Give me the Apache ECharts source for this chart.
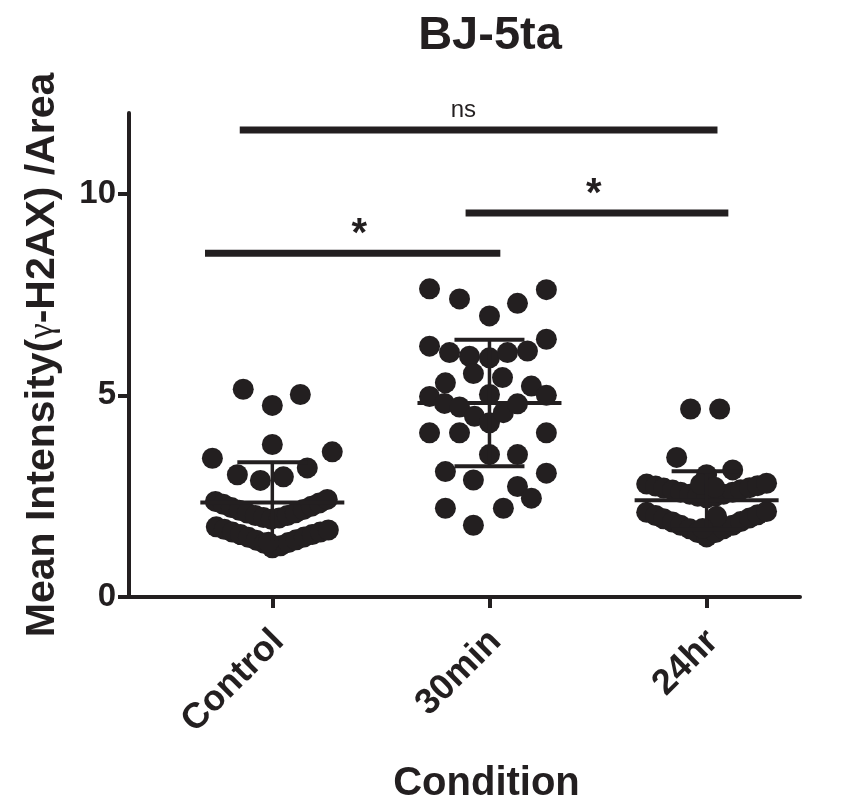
<!DOCTYPE html>
<html>
<head>
<meta charset="utf-8">
<title>BJ-5ta</title>
<script src="https://cdn.jsdelivr.net/npm/echarts@6/dist/echarts.min.js"></script>
<style>
html, body { margin: 0; padding: 0; background: #fff; }
#chart { width: 843px; height: 804px; }
</style>
</head>
<body>
<div id="chart"></div>
<script>
var conditions = ['Control', '30min', '24hr'];
var yTicks = [0, 5, 10];

// each point: [spread inside the column, value]
var controlPts = [
    [-0.134, 5.15], [0, 4.75], [0.129, 5.02], [0, 3.78], [-0.276, 3.44], [0.276, 3.60],
    [-0.161, 3.03], [-0.055, 2.89], [0.051, 2.98], [0.161, 3.20],
    [-0.262, 2.37], [-0.226, 2.30], [-0.189, 2.22], [-0.152, 2.15], [-0.115, 2.08],
    [-0.078, 2.02], [-0.041, 1.97], [-0.005, 1.93], [0.032, 1.96], [0.069, 2.02],
    [0.106, 2.09], [0.143, 2.17], [0.180, 2.25], [0.216, 2.33], [0.253, 2.42],
    [-0.258, 1.74], [-0.221, 1.68], [-0.184, 1.61], [-0.147, 1.55], [-0.110, 1.48],
    [-0.074, 1.41], [-0.037, 1.33], [0, 1.22], [0.037, 1.27], [0.074, 1.35],
    [0.110, 1.42], [0.147, 1.49], [0.184, 1.55], [0.221, 1.61], [0.258, 1.66],
    [-0.018, 1.36]
];
var min30Pts = [
    [-0.276, 7.64], [-0.138, 7.39], [0, 6.97], [0.129, 7.28], [0.262, 7.62],
    [-0.276, 6.22], [-0.184, 6.06], [-0.092, 5.97], [0, 5.93], [0.083, 6.06], [0.175, 6.10], [0.262, 6.39],
    [-0.074, 5.54], [0.060, 5.44], [-0.203, 5.31], [0.193, 5.23], [0, 5.02], [-0.276, 4.97], [0.262, 5.00],
    [-0.207, 4.80], [-0.138, 4.71], [-0.069, 4.48], [0, 4.32], [0.064, 4.57], [0.129, 4.79],
    [-0.276, 4.07], [-0.138, 4.07], [0.262, 4.07],
    [0, 3.53], [0.129, 3.53],
    [-0.203, 3.11], [-0.074, 2.90], [0.262, 3.07], [0.129, 2.74], [0.193, 2.45],
    [-0.203, 2.20], [0.064, 2.20], [-0.074, 1.78]
];
var hr24Pts = [
    [-0.074, 4.66], [0.060, 4.66], [-0.138, 3.46], [0.120, 3.15], [0, 3.03],
    [-0.276, 2.80], [-0.235, 2.75], [-0.198, 2.70], [-0.157, 2.65], [-0.120, 2.60],
    [-0.078, 2.55], [-0.041, 2.50], [0, 2.46], [0.041, 2.50], [0.078, 2.55],
    [0.120, 2.60], [0.157, 2.66], [0.198, 2.71], [0.235, 2.76], [0.276, 2.82],
    [-0.276, 2.10], [-0.235, 2.02], [-0.198, 1.94], [-0.157, 1.86], [-0.120, 1.78],
    [-0.078, 1.69], [-0.041, 1.60], [0, 1.49], [0.041, 1.60], [0.078, 1.69],
    [0.120, 1.78], [0.157, 1.87], [0.198, 1.96], [0.235, 2.04], [0.276, 2.12],
    [-0.028, 2.80], [0.037, 2.72], [0.046, 2.00], [-0.018, 1.70]
];

var means = [2.34, 4.81, 2.40];
var sds = [1.00, 1.57, 0.72];

// significance bars
var sigFrom = [0.69, 1.89, 0.85];
var sigTo = [2.05, 3.10, 3.05];
var sigY = [8.52, 9.52, 11.58];
var sigText = ['*', '*', 'ns'];
var sigTextX = [1.40, 2.48, 1.88];

var INK = '#231f20';
var FONT = '"Liberation Sans", Arial, sans-serif';

var groups = [controlPts, min30Pts, hr24Pts];
var dots = [];
groups.forEach(function (pts, i) {
    pts.forEach(function (p) {
        dots.push([i + 1 + p[0], p[1]]);
    });
});

var errData = means.map(function (m, i) { return [i + 1, m, sds[i]]; });
var sigData = sigY.map(function (y, i) { return [sigFrom[i], sigTo[i], y, sigTextX[i]]; });

var chart = echarts.init(document.getElementById('chart'));
var option = {
    animation: false,
    backgroundColor: '#fff',
    title: {
        text: 'BJ-5ta',
        left: 485,
        top: 8,
        textAlign: 'center',
        textStyle: { color: INK, fontFamily: FONT, fontWeight: 'bold', fontSize: 47 }
    },
    grid: { left: 129, right: 43, top: 113, bottom: 207, outerBoundsMode: 'none' },
    xAxis: {
        type: 'value',
        min: 0.34,
        max: 3.43,
        name: 'Condition',
        nameLocation: 'middle',
        nameGap: 167,
        nameTextStyle: { color: INK, fontFamily: FONT, fontWeight: 'bold', fontSize: 40, padding: [0, 0, 0, 44] },
        splitLine: { show: false },
        axisLine: { lineStyle: { color: INK, width: 4 } },
        axisTick: { customValues: [1, 2, 3], length: 11, lineStyle: { color: INK, width: 4 } },
        axisLabel: {
            // rotated labels sit a little right of their ticks
            customValues: [1.028, 2.028, 3.028],
            rotate: 45,
            margin: 39,
            color: INK, fontFamily: FONT, fontWeight: 'bold', fontSize: 36,
            formatter: function (v) { return conditions[Math.round(v) - 1]; }
        }
    },
    yAxis: {
        type: 'value',
        min: 0,
        max: 12,
        name: 'Mean Intensity({g|γ}-H2AX) /Area',
        nameLocation: 'middle',
        nameGap: 66,
        nameTextStyle: {
            color: INK, fontFamily: FONT, fontWeight: 'bold', fontSize: 41,
            rich: { g: { color: INK, fontFamily: '"Liberation Serif", serif', fontWeight: 'normal', fontSize: 35 } }
        },
        splitLine: { show: false },
        axisLine: { lineStyle: { color: INK, width: 4 } },
        axisTick: { customValues: yTicks, length: 11, lineStyle: { color: INK, width: 4 } },
        axisLabel: { customValues: yTicks, margin: 13, color: INK, fontFamily: FONT, fontWeight: 'bold', fontSize: 33 }
    },
    series: [
        {
            type: 'scatter',
            data: dots,
            symbol: 'circle',
            symbolSize: 21,
            itemStyle: { color: INK, opacity: 1 },
            z: 2
        },
        {
            type: 'custom',
            data: errData,
            z: 3,
            renderItem: function (params, api) {
                var c = api.coord([api.value(0), api.value(1)]);
                var hi = api.coord([api.value(0), api.value(1) + api.value(2)]);
                var lo = api.coord([api.value(0), api.value(1) - api.value(2)]);
                var st = { stroke: INK, lineWidth: 4 };
                return {
                    type: 'group',
                    children: [
                        { type: 'line', shape: { x1: c[0] - 72, y1: c[1], x2: c[0] + 72, y2: c[1] }, style: st },
                        { type: 'line', shape: { x1: c[0], y1: hi[1], x2: c[0], y2: lo[1] }, style: { stroke: INK, lineWidth: 3.5 } },
                        { type: 'line', shape: { x1: c[0] - 35, y1: hi[1], x2: c[0] + 35, y2: hi[1] }, style: st },
                        { type: 'line', shape: { x1: c[0] - 35, y1: lo[1], x2: c[0] + 35, y2: lo[1] }, style: st }
                    ]
                };
            }
        },
        {
            type: 'custom',
            data: sigData,
            z: 4,
            renderItem: function (params, api) {
                var a = api.coord([api.value(0), api.value(2)]);
                var b = api.coord([api.value(1), api.value(2)]);
                var t = api.coord([api.value(3), api.value(2)]);
                var txt = sigText[params.dataIndex];
                var star = txt === '*';
                return {
                    type: 'group',
                    children: [
                        { type: 'line', shape: { x1: a[0], y1: a[1], x2: b[0], y2: b[1] }, style: { stroke: INK, lineWidth: 7 } },
                        {
                            type: 'text',
                            x: t[0],
                            y: a[1] - (star ? 18 : 20),
                            style: {
                                text: txt,
                                fill: INK,
                                font: (star ? 'bold 40px ' : 'normal 24px ') + FONT,
                                align: 'center',
                                verticalAlign: 'middle'
                            }
                        }
                    ]
                };
            }
        }
    ]
};
chart.setOption(option);
window.addEventListener('resize', function () {
    chart.resize();
});
</script>
</body>
</html>
